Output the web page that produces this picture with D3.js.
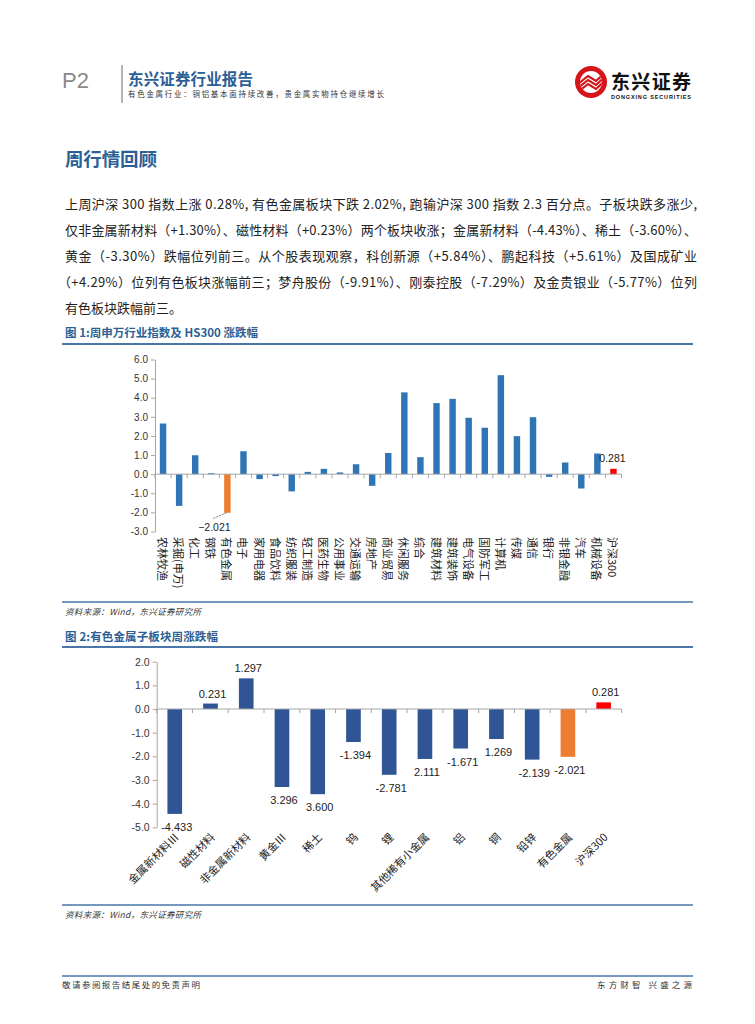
<!DOCTYPE html>
<html><head><meta charset="utf-8">
<script src="https://cdn.jsdelivr.net/npm/d3@7"></script>
<style>
html,body{margin:0;padding:0;background:#fff;}
svg{display:block;}
text{font-family:"Noto Sans CJK SC","Liberation Sans",sans-serif;}
</style></head>
<body>
<script>
// ---------- DATA ----------
const cat1 = ["农林牧渔","采掘(申万)","化工","钢铁","有色金属","电子","家用电器","食品饮料","纺织服装","轻工制造","医药生物","公用事业","交通运输","房地产","商业贸易","休闲服务","综合","建筑材料","建筑装饰","电气设备","国防军工","计算机","传媒","通信","银行","非银金融","汽车","机械设备","沪深300"];
const val1 = [2.65,-1.66,0.99,0.05,-2.021,1.20,-0.26,-0.10,-0.90,0.12,0.28,0.09,0.52,-0.61,1.11,4.28,0.89,3.72,3.94,2.95,2.43,5.18,1.99,2.98,-0.14,0.61,-0.75,1.08,0.281];
const ticks1 = ["6.0","5.0","4.0","3.0","2.0","1.0","0.0","-1.0","-2.0","-3.0"];

const cat2 = ["金属新材料Ⅲ","磁性材料","非金属新材料","黄金Ⅲ","稀土","钨","锂","其他稀有小金属","铝","铜","铅锌","有色金属","沪深300"];
const val2 = [-4.433,0.231,1.297,-3.296,-3.600,-1.394,-2.781,-2.111,-1.671,-1.269,-2.139,-2.021,0.281];
const lab2 = ["-4.433","0.231","1.297","3.296","3.600","-1.394","-2.781","2.111","-1.671","1.269","-2.139","-2.021","0.281"];
const ticks2 = ["2.0","1.0","0.0","-1.0","-2.0","-3.0","-4.0","-5.0"];

const paraLines = [
 "上周沪深 300 指数上涨 0.28%, 有色金属板块下跌 2.02%, 跑输沪深 300 指数 2.3 百分点。子板块跌多涨少,",
 "仅非金属新材料（+1.30%）、磁性材料（+0.23%）两个板块收涨；金属新材料（-4.43%）、稀土（-3.60%）、",
 "黄金（-3.30%）跌幅位列前三。从个股表现观察，科创新源（+5.84%）、鹏起科技（+5.61%）及国成矿业",
 "（+4.29%）位列有色板块涨幅前三；梦舟股份（-9.91%）、刚泰控股（-7.29%）及金贵银业（-5.77%）位列",
 "有色板块跌幅前三。"
];

// ---------- STYLE ----------
const BLUE1="#2E75B6", BLUE2="#2F5597", ORANGE="#ED7D31", RED="#FF0000";
const TITLE="#2B5F95", RULE="#4A76A8", AXIS="#A6A6A6";
function colorFor(c){ return c==="有色金属"?ORANGE:(c==="沪深300"?RED:null); }

const svg = d3.select("body").append("svg").attr("width",755).attr("height",1024);
svg.append("rect").attr("width",755).attr("height",1024).attr("fill","#fff");

// ---------- HEADER ----------
svg.append("text").attr("x",62).attr("y",88).attr("font-size",22).attr("fill","#8a8a8a")
  .style("font-family","'Liberation Sans',Arial,sans-serif").text("P2");
svg.append("line").attr("x1",122).attr("x2",122).attr("y1",65).attr("y2",103).attr("stroke","#9a9a9a").attr("stroke-width",1.5);
svg.append("text").attr("x",128).attr("y",85).attr("font-size",15.5).attr("font-weight","bold").attr("fill",TITLE)
  .attr("textLength",125).text("东兴证券行业报告");
svg.append("text").attr("x",128).attr("y",96.5).attr("font-size",7.5).attr("fill","#333")
  .attr("textLength",256).text("有色金属行业：铜铝基本面持续改善，贵金属实物持仓继续增长");

// logo
const lg = svg.append("g").attr("transform","translate(591,82)");
lg.append("circle").attr("r",16).attr("fill","#D7141A");
lg.append("circle").attr("r",11).attr("fill","#fff");
const clip = svg.append("clipPath").attr("id","lc");
clip.append("circle").attr("cx",591).attr("cy",82).attr("r",11);
const lgi = svg.append("g").attr("clip-path","url(#lc)");
[0,4,8].forEach(o=>{
  lgi.append("path").attr("d",`M${578} ${92-o} L${588} ${84-o} L${596} ${89-o} L${606} ${80-o}`)
    .attr("fill","none").attr("stroke","#D7141A").attr("stroke-width",2.2);
});
svg.append("text").attr("x",611).attr("y",89).attr("font-size",19).attr("font-weight","bold").attr("fill","#111")
  .attr("textLength",80).text("东兴证券");
svg.append("text").attr("x",611).attr("y",99).attr("font-size",5.5).attr("font-weight","bold").attr("fill","#111")
  .style("font-family","'Liberation Sans',Arial,sans-serif").attr("textLength",80).text("DONGXING SECURITIES");

// ---------- SECTION ----------
svg.append("text").attr("x",65).attr("y",166).attr("font-size",18.5).attr("font-weight","bold").attr("fill",TITLE)
  .attr("textLength",92).text("周行情回顾");
const lineY=[209,235,261,287,313];
paraLines.forEach((t,i)=>{
  const tx = svg.append("text").attr("x",i===3?58:65).attr("y",lineY[i]).attr("font-size",13).attr("fill","#222").text(t);
  if(i<4) tx.attr("textLength", i===3?639:632).attr("lengthAdjust","spacing");
});

// ---------- CHART 1 ----------
svg.append("text").attr("x",65).attr("y",337).attr("font-size",11.5).attr("font-weight","bold").attr("fill",TITLE)
  .attr("textLength",193).text("图 1:周申万行业指数及 HS300 涨跌幅");
svg.append("line").attr("x1",62).attr("x2",693).attr("y1",344).attr("y2",344).attr("stroke",RULE).attr("stroke-width",2);

const x1 = d3.scaleBand().domain(cat1).range([155,621.5]).paddingInner(0.6).paddingOuter(0.3);
const y1 = d3.scaleLinear().domain([-3,6]).range([531.5,359.5]);
const g1 = svg.append("g");
const ya1 = d3.axisLeft(y1).tickValues(ticks1.map(Number)).tickFormat((d,i)=>ticks1[i]).tickSize(4).tickSizeOuter(0);
g1.append("g").attr("transform","translate(155,0)").call(ya1)
  .call(g=>{g.select(".domain").attr("stroke",AXIS);g.selectAll(".tick line").attr("stroke",AXIS);
    g.selectAll("text").attr("font-size",10).attr("fill","#333").style("font-family","'Liberation Sans',Arial,sans-serif");});
g1.selectAll("rect.b").data(cat1).enter().append("rect")
  .attr("x",d=>x1(d)).attr("width",x1.bandwidth())
  .attr("y",(d,i)=>y1(Math.max(0,val1[i]))).attr("height",(d,i)=>Math.abs(y1(val1[i])-y1(0)))
  .attr("fill",d=>colorFor(d)||BLUE1);
g1.append("line").attr("x1",155).attr("x2",621.5).attr("y1",y1(0)).attr("y2",y1(0)).attr("stroke",AXIS);
d3.range(cat1.length+1).forEach(i=>{
  const xx = 155 + i*(621.5-155)/cat1.length;
  g1.append("line").attr("x1",xx).attr("x2",xx).attr("y1",y1(0)).attr("y2",y1(0)+4).attr("stroke",AXIS);
});
g1.selectAll("text.c").data(cat1).enter().append("text")
  .attr("transform",d=>`translate(${x1(d)+x1.bandwidth()/2},537) rotate(90)`)
  .attr("dominant-baseline","central").attr("font-size",11).attr("fill","#222").text(d=>d);
const iY = cat1.indexOf("有色金属"), iH = cat1.indexOf("沪深300");
const bx = x1(cat1[iY])+x1.bandwidth()/2;
g1.append("line").attr("x1",bx-1).attr("y1",y1(val1[iY])).attr("x2",bx-15).attr("y2",y1(val1[iY])+6)
  .attr("stroke","#555").attr("stroke-width",0.8).attr("stroke-dasharray","2,1");
g1.append("text").attr("x",bx-13).attr("y",y1(val1[iY])+18).attr("text-anchor","middle").attr("font-size",10.5).attr("fill","#222")
  .style("font-family","'Liberation Sans',Arial,sans-serif").text(d3.format(".3f")(val1[iY]));
g1.append("text").attr("x",x1(cat1[iH])+x1.bandwidth()/2-1).attr("y",y1(val1[iH])-7).attr("text-anchor","middle").attr("font-size",10.5).attr("fill","#222")
  .style("font-family","'Liberation Sans',Arial,sans-serif").text(d3.format(".3f")(val1[iH]));

// source 1
svg.append("line").attr("x1",62).attr("x2",693).attr("y1",602).attr("y2",602).attr("stroke",RULE).attr("stroke-width",1.5);
svg.append("text").attr("x",65).attr("y",615).attr("font-size",8.5).attr("font-style","italic").attr("fill","#333")
  .attr("textLength",136).text("资料来源：Wind，东兴证券研究所");

// ---------- CHART 2 ----------
svg.append("text").attr("x",65).attr("y",641).attr("font-size",11.5).attr("font-weight","bold").attr("fill",TITLE)
  .attr("textLength",153).text("图 2:有色金属子板块周涨跌幅");
svg.append("line").attr("x1",62).attr("x2",693).attr("y1",647).attr("y2",647).attr("stroke",RULE).attr("stroke-width",2);

const x2 = d3.scaleBand().domain(cat2).range([156.7,621.7]).paddingInner(0.59).paddingOuter(0.3);
const y2 = d3.scaleLinear().domain([-5,2]).range([827.3,661.7]);
const g2 = svg.append("g");
const ya2 = d3.axisLeft(y2).tickValues(ticks2.map(Number)).tickFormat((d,i)=>ticks2[i]).tickSize(4).tickSizeOuter(0);
g2.append("g").attr("transform","translate(156.7,0)").call(ya2)
  .call(g=>{g.select(".domain").attr("stroke",AXIS);g.selectAll(".tick line").attr("stroke",AXIS);
    g.selectAll("text").attr("font-size",10.5).attr("fill","#333").style("font-family","'Liberation Sans',Arial,sans-serif");});
g2.selectAll("rect.b").data(cat2).enter().append("rect")
  .attr("x",d=>x2(d)).attr("width",x2.bandwidth())
  .attr("y",(d,i)=>y2(Math.max(0,val2[i]))).attr("height",(d,i)=>Math.abs(y2(val2[i])-y2(0)))
  .attr("fill",d=>colorFor(d)||BLUE2);
g2.append("line").attr("x1",156.7).attr("x2",621.7).attr("y1",y2(0)).attr("y2",y2(0)).attr("stroke",AXIS);
d3.range(cat2.length+1).forEach(i=>{
  const xx = 156.7 + i*(621.7-156.7)/cat2.length;
  g2.append("line").attr("x1",xx).attr("x2",xx).attr("y1",y2(0)).attr("y2",y2(0)+4).attr("stroke",AXIS);
});
g2.selectAll("text.v").data(cat2).enter().append("text")
  .attr("x",d=>x2(d)+x2.bandwidth()/2+2)
  .attr("y",(d,i)=>val2[i]>=0 ? y2(val2[i])-6 : y2(val2[i])+17)
  .attr("text-anchor","middle").attr("font-size",11).attr("fill","#222")
  .style("font-family","'Liberation Sans',Arial,sans-serif").text((d,i)=>lab2[i]);
g2.selectAll("text.c").data(cat2).enter().append("text")
  .attr("transform",d=>`translate(${x2(d)+x2.bandwidth()/2+5},838) rotate(-45)`)
  .attr("text-anchor","end").attr("font-size",11).attr("fill","#222").text(d=>d);

// source 2
svg.append("line").attr("x1",62).attr("x2",693).attr("y1",905).attr("y2",905).attr("stroke",RULE).attr("stroke-width",1.5);
svg.append("text").attr("x",65).attr("y",918).attr("font-size",8.5).attr("font-style","italic").attr("fill","#333")
  .attr("textLength",136).text("资料来源：Wind，东兴证券研究所");

// ---------- FOOTER ----------
svg.append("line").attr("x1",62).attr("x2",693).attr("y1",976).attr("y2",976).attr("stroke",RULE).attr("stroke-width",1.5);
svg.append("text").attr("x",62).attr("y",988).attr("font-size",8.5).attr("fill","#333")
  .attr("textLength",138).text("敬请参阅报告结尾处的免责声明");
svg.append("text").attr("x",597).attr("y",988).attr("font-size",8.5).attr("fill","#333")
  .attr("textLength",95).text("东方财智 兴盛之源");
</script>
</body></html>
